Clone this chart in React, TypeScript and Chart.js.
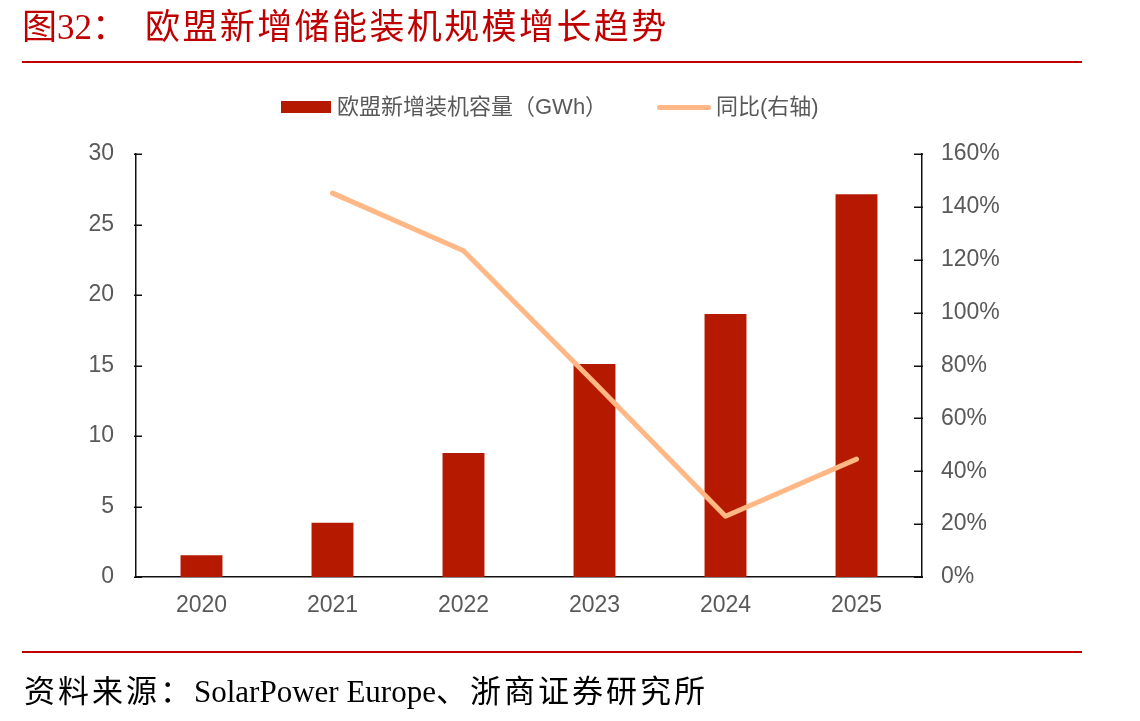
import React, { useEffect, useRef } from "react";
import { Chart, registerables } from "chart.js";

Chart.register(...registerables);

const categories = ["2020", "2021", "2022", "2023", "2024", "2025"];
const capacityGWh = [1.55, 3.85, 8.8, 15.1, 18.65, 27.15];
const yoyPct = [null, 145.2, 123.4, 73.5, 23.0, 44.6];
const leftTicks = [0, 5, 10, 15, 20, 25, 30];
const rightTicks = [0, 20, 40, 60, 80, 100, 120, 140, 160];

const barLabel = "欧盟新增装机容量（GWh）";
const lineLabel = "同比(右轴)";
const titlePrefix = "图32：";
const titleText = "欧盟新增储能装机规模增长趋势";

const BAR_COLOR = "#B51A00";
const LINE_COLOR = "#FFB885";
const RED = "#C00000";
const TEXT_GRAY = "#595959";
const TICK_FONT = "'Liberation Sans', Arial, sans-serif";

const innerTicks = {
  id: "innerTicks",
  afterDraw(chart: any) {
    const ctx = chart.ctx;
    const yl = chart.scales.y;
    const yr = chart.scales.y1;
    ctx.save();
    ctx.strokeStyle = "#111";
    ctx.lineWidth = 1.5;
    ctx.beginPath();
    yl.ticks.forEach((t: any) => {
      const p = Math.round(yl.getPixelForValue(t.value)) + 0.25;
      ctx.moveTo(yl.right - 2, p);
      ctx.lineTo(yl.right + 6, p);
    });
    yr.ticks.forEach((t: any) => {
      const p = Math.round(yr.getPixelForValue(t.value)) + 0.25;
      ctx.moveTo(yr.left - 8, p);
      ctx.lineTo(yr.left + 1, p);
    });
    ctx.stroke();
    ctx.restore();
  },
};

export default function App() {
  const ref = useRef<HTMLCanvasElement | null>(null);

  useEffect(() => {
    if (!ref.current) return;
    const chart = new Chart(ref.current, {
      type: "bar",
      data: {
        labels: categories,
        datasets: [
          {
            type: "line",
            label: lineLabel,
            data: yoyPct as any,
            yAxisID: "y1",
            borderColor: LINE_COLOR,
            backgroundColor: LINE_COLOR,
            borderWidth: 5,
            borderCapStyle: "round",
            borderJoinStyle: "round",
            pointRadius: 0,
            pointHoverRadius: 0,
            tension: 0,
            spanGaps: false,
            order: 0,
          } as any,
          {
            type: "bar",
            label: barLabel,
            data: capacityGWh,
            yAxisID: "y",
            backgroundColor: BAR_COLOR,
            borderWidth: 0,
            categoryPercentage: 0.8,
            barPercentage: 0.4,
            order: 1,
          } as any,
        ],
      },
      options: {
        animation: false,
        responsive: false,
        devicePixelRatio: 1,
        layout: { padding: { top: 154, left: 0, right: 0, bottom: 0 } },
        plugins: {
          legend: { display: false },
          tooltip: { enabled: false },
          title: { display: false },
        },
        scales: {
          x: {
            offset: true,
            grid: { display: false, drawTicks: false },
            border: { display: true, color: "#111", width: 1.5 },
            ticks: {
              color: TEXT_GRAY,
              font: { family: TICK_FONT, size: 23 },
              padding: 15,
              maxRotation: 0,
            },
            afterFit(scale: any) {
              scale.height = 144;
            },
          },
          y: {
            position: "left",
            min: 0,
            max: 30,
            afterBuildTicks(scale: any) {
              scale.ticks = leftTicks.map((v) => ({ value: v }));
            },
            grid: { display: false, drawTicks: false },
            border: { display: true, color: "#111", width: 1.5 },
            ticks: {
              color: TEXT_GRAY,
              font: { family: TICK_FONT, size: 23 },
              padding: 22,
            },
            afterFit(scale: any) {
              scale.width = 136;
            },
          },
          y1: {
            position: "right",
            min: 0,
            max: 160,
            afterBuildTicks(scale: any) {
              scale.ticks = rightTicks.map((v) => ({ value: v }));
            },
            grid: { display: false, drawTicks: false },
            border: { display: true, color: "#111", width: 1.5 },
            ticks: {
              color: TEXT_GRAY,
              font: { family: TICK_FONT, size: 23 },
              padding: 19,
              callback: (v: any) => `${v}%`,
            },
            afterFit(scale: any) {
              scale.width = 218;
            },
          },
        },
      },
      plugins: [innerTicks],
    });
    return () => chart.destroy();
  }, []);

  const legendText: React.CSSProperties = {
    position: "absolute",
    top: 95,
    fontSize: 22,
    lineHeight: "24px",
    color: TEXT_GRAY,
    fontFamily: "'Liberation Sans', 'Noto Sans CJK SC', sans-serif",
    whiteSpace: "nowrap",
  };

  return (
    <div
      style={{
        position: "fixed",
        left: 0,
        top: 0,
        width: 1140,
        height: 721,
        background: "#fff",
        overflow: "hidden",
      }}
    >
      <canvas
        ref={ref}
        width={1140}
        height={721}
        style={{ position: "absolute", left: 0, top: 0, width: 1140, height: 721 }}
      />
      <div
        style={{
          position: "absolute",
          left: 22,
          top: 10,
          fontSize: 35,
          lineHeight: "35px",
          color: RED,
          fontFamily: "'Liberation Serif', 'Noto Sans CJK SC', serif",
          whiteSpace: "nowrap",
        }}
      >
        {titlePrefix}
      </div>
      <div
        style={{
          position: "absolute",
          left: 145,
          top: 10,
          fontSize: 35,
          lineHeight: "35px",
          letterSpacing: 2.4,
          color: RED,
          fontFamily: "'Liberation Serif', 'Noto Sans CJK SC', serif",
          whiteSpace: "nowrap",
        }}
      >
        {titleText}
      </div>
      <div style={{ position: "absolute", left: 22, top: 61, width: 1060, height: 2, background: RED }} />

      <div style={{ position: "absolute", left: 281, top: 101, width: 50, height: 12, background: BAR_COLOR }} />
      <div style={{ ...legendText, left: 337 }}>{barLabel}</div>
      <div
        style={{
          position: "absolute",
          left: 657,
          top: 105,
          width: 54,
          height: 5,
          borderRadius: 3,
          background: LINE_COLOR,
        }}
      />
      <div style={{ ...legendText, left: 716 }}>{lineLabel}</div>

      <div style={{ position: "absolute", left: 22, top: 651, width: 1060, height: 2, background: RED }} />
      <div
        style={{
          position: "absolute",
          left: 24,
          top: 676,
          fontSize: 31,
          lineHeight: "31px",
          color: "#000",
          fontFamily: "'Liberation Serif', 'Noto Sans CJK SC', serif",
          whiteSpace: "nowrap",
        }}
      >
        <span style={{ letterSpacing: 3 }}>资料来源：</span>
        <span>SolarPower Europe</span>
        <span style={{ letterSpacing: 3 }}>、浙商证券研究所</span>
      </div>
    </div>
  );
}
